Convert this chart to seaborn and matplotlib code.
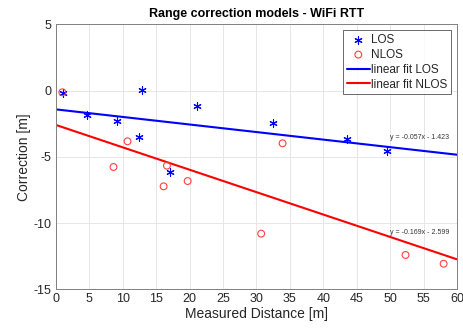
import numpy as np
import pandas as pd
import matplotlib
matplotlib.use("Agg")
import matplotlib.pyplot as plt
import seaborn as sns

# Measured distance [m] and range correction [m]
los_dist = [1.1, 4.7, 9.2, 12.4, 12.9, 17.1, 21.1, 32.4, 43.6, 49.5]
los_corr = [-0.2, -1.85, -2.3, -3.53, 0.05, -6.12, -1.17, -2.47, -3.68, -4.54]
nlos_dist = [0.95, 8.6, 10.7, 16.1, 16.6, 19.7, 30.7, 33.9, 52.3, 58.0]
nlos_corr = [-0.13, -5.77, -3.83, -7.23, -5.67, -6.83, -10.8, -3.98, -12.41, -13.07]

# Linear fit coefficients (slope, intercept)
los_fit = [-0.057, -1.423]
nlos_fit = [-0.169, -2.599]
fit_range = [0, 60]

sns.set_theme(style="whitegrid")
plt.rcParams["font.family"] = ["Liberation Sans", "DejaVu Sans"]
plt.rcParams["axes.unicode_minus"] = False

fig = plt.figure(figsize=(4.64, 3.31), dpi=100)
ax = fig.add_axes([0.1207, 0.126, 0.8642, 0.8006])

los_df = pd.DataFrame({"d": los_dist, "c": los_corr})
nlos_df = pd.DataFrame({"d": nlos_dist, "c": nlos_corr})
xf = np.array(fit_range, dtype=float)
los_line = pd.DataFrame({"d": xf, "c": los_fit[0] * xf + los_fit[1]})
nlos_line = pd.DataFrame({"d": xf, "c": nlos_fit[0] * xf + nlos_fit[1]})

# asterisk marker: 6 arms
sns.scatterplot(data=los_df, x="d", y="c", ax=ax, marker=(6, 2, 0), s=28,
                color="#0000ff", edgecolor="#0000ff", linewidth=0.8,
                label="LOS", zorder=3)
sns.scatterplot(data=nlos_df, x="d", y="c", ax=ax, marker="o", s=24,
                facecolor="none", edgecolor="#ff4040", linewidth=0.8,
                label="NLOS", zorder=3)
sns.lineplot(data=los_line, x="d", y="c", ax=ax, color="#0000ff",
             linewidth=1.5, label="linear fit LOS", zorder=2)
sns.lineplot(data=nlos_line, x="d", y="c", ax=ax, color="#ff0000",
             linewidth=1.5, label="linear fit NLOS", zorder=2)

ax.text(58.8, -3.58, f"y = {los_fit[0]:.3f}x - {abs(los_fit[1]):.3f}",
        fontsize=5, ha="right", va="center", color="#333333")
ax.text(58.8, -10.75, f"y = {nlos_fit[0]:.3f}x - {abs(nlos_fit[1]):.3f}",
        fontsize=5, ha="right", va="center", color="#333333")

ax.set_xlim(0, 60)
ax.set_ylim(-15, 5)
ax.set_xticks(np.arange(0, 61, 5))
ax.set_yticks([-15, -10, -5, 0, 5])
ax.tick_params(labelsize=9, colors="#262626", length=0, pad=3)
ax.grid(True, color="#e6e6e6", linewidth=0.7)
for s in ax.spines.values():
    s.set_color("#808080")
    s.set_linewidth(0.7)

ax.set_xlabel("Measured Distance [m]", fontsize=10, color="#262626", labelpad=1)
ax.set_ylabel("Correction [m]", fontsize=10, color="#262626", labelpad=2)
ax.set_title("Range correction models - WiFi RTT", fontsize=9,
             fontweight="bold", color="#000000", pad=5)

leg = ax.legend(loc="upper right", fontsize=8.5, frameon=True, fancybox=False,
                edgecolor="#262626", borderpad=0.3, labelspacing=0.25,
                handlelength=2.0, handletextpad=0.1, borderaxespad=0.5)
leg.get_frame().set_linewidth(0.6)

fig.savefig("out.png", dpi=100)
